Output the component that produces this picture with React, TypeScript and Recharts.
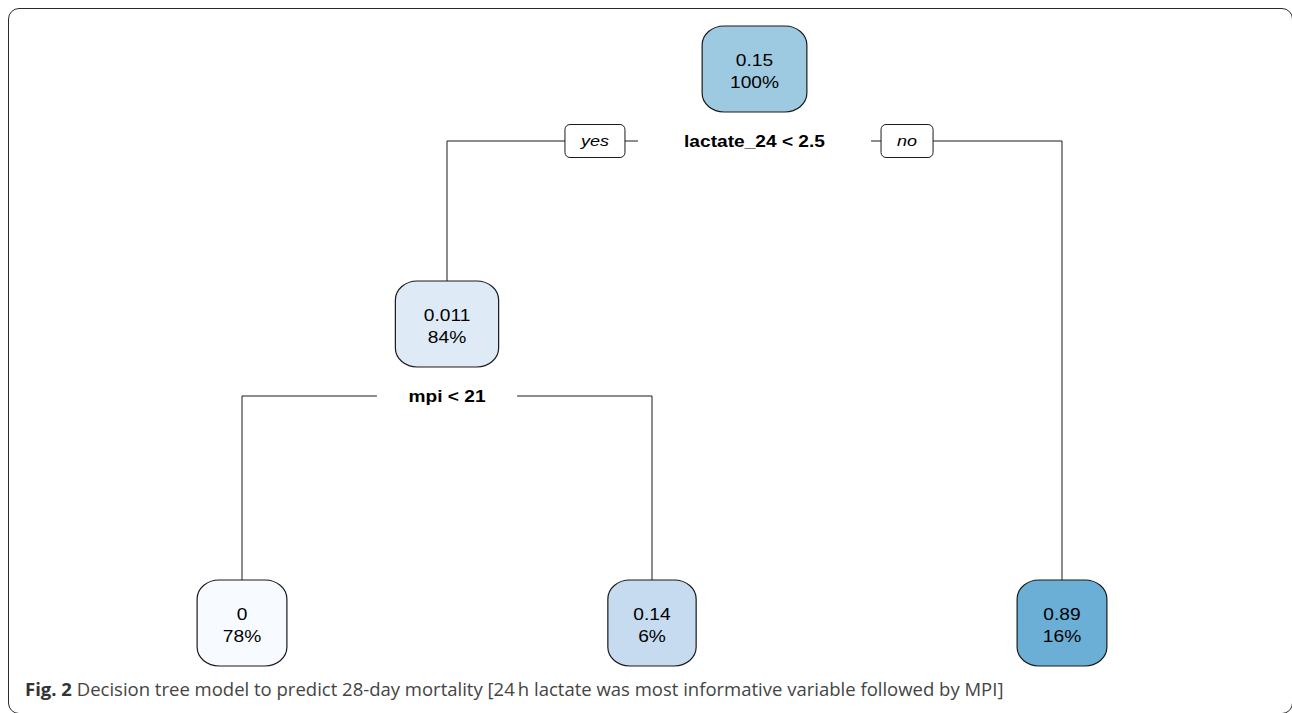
import React from "react";
import { ComposedChart, XAxis, YAxis, Line, Scatter } from "recharts";

// rpart tree for 28-day mortality. node n has children 2n (yes) and 2n+1 (no)
const nodeIds = [1, 2, 3, 4, 5];
const nodeRates = ["0.15", "0.011", "0.89", "0", "0.14"];
const nodeShares = ["100%", "84%", "16%", "78%", "6%"];
const splitIds = [1, 2];
const splitRules = ["lactate_24 < 2.5", "mpi < 21"];
const branchLabels = ["yes", "no"];

const FILL: Record<number, string> = {
  1: "#9ecae1",
  2: "#deebf7",
  3: "#6baed6",
  4: "#f7fbff",
  5: "#c6dbef",
};

const W = 1292;
const H = 713;
const FONT = "'Liberation Sans', Arial, Helvetica, sans-serif";
const SX = 1.2; // the figure is stretched sideways
const ROW_Y = [69, 324];
const LEAF_Y = 623;
const SPLIT_DY = 72;
const INK = "#1a1a1a";

// Arial widths in em, anything missing is 0.556
const EM: Record<string, number> = {
  ".": 0.278, "%": 0.889, " ": 0.278, "<": 0.584, l: 0.278, i: 0.278,
  t: 0.333, m: 0.889, p: 0.611, y: 0.5, s: 0.5,
};
const textW = (s: string, size: number) =>
  [...s].reduce((w, ch) => w + (EM[ch] ?? 0.556), 0) * size * SX;

// leaves left to right, inner nodes centred over their children
const kids = (id: number) => nodeIds.filter((c) => c === 2 * id || c === 2 * id + 1);
const pos: Record<number, { x: number; depth: number; leaf: boolean }> = {};
let nextLeaf = 0;
function place(id: number, depth: number): number {
  const k = kids(id);
  let x: number;
  if (k.length === 0) x = nextLeaf++;
  else {
    const xs = k.map((c) => place(c, depth + 1));
    x = (xs[0] + xs[xs.length - 1]) / 2;
  }
  pos[id] = { x, depth, leaf: k.length === 0 };
  return x;
}
place(1, 0);

const nodes = nodeIds.map((id, i) => ({
  id,
  rate: nodeRates[i],
  share: nodeShares[i],
  x: pos[id].x,
  y: pos[id].leaf ? LEAF_Y : ROW_Y[pos[id].depth],
}));
const byId = (id: number) => nodes.find((n) => n.id === id)!;

const edges = nodes
  .filter((n) => n.id > 1)
  .map((c) => {
    const p = byId(Math.floor(c.id / 2));
    const sy = p.y + SPLIT_DY;
    return [
      { x: p.x, y: sy },
      { x: c.x, y: sy },
      { x: c.x, y: c.y },
    ];
  });

function SText({ x, y, size, bold, italic, sx = SX, children }: any) {
  return (
    <text
      transform={`translate(${x},${y}) scale(${sx},1)`}
      textAnchor="middle"
      fontFamily={FONT}
      fontSize={size}
      fontWeight={bold ? 700 : 400}
      fontStyle={italic ? "italic" : "normal"}
      fill="#000"
    >
      {children}
    </text>
  );
}

function NodeShape(props: any) {
  const { cx, cy, payload } = props;
  const w = Math.max(textW(payload.rate, 16), textW(payload.share, 16)) * 1.4 + 36;
  const h = 86;
  const si = splitIds.indexOf(payload.id);
  let split = null;
  if (si >= 0) {
    const rule = splitRules[si];
    const sy = cy + SPLIT_DY;
    const gap = textW(rule, 16) * 1.45 + 28;
    split = (
      <g>
        <rect x={cx - gap / 2} y={sy - 12} width={gap} height={24} fill="#fff" />
        <SText x={cx} y={sy + 6} size={16.5} sx={1.16} bold>
          {rule}
        </SText>
        {payload.id === 1 &&
          branchLabels.map((b, j) => {
            const bw = textW(b, 15) + 32;
            const bx = j === 0 ? cx - gap / 2 - 13 - bw : cx + gap / 2 + 10;
            return (
              <g key={b}>
                <rect x={bx} y={sy - 16.5} width={bw} height={33} rx={5} fill="#fff" stroke={INK} strokeWidth={1} />
                <SText x={bx + bw / 2} y={sy + 5} size={15.5} sx={1.16} italic>
                  {b}
                </SText>
              </g>
            );
          })}
      </g>
    );
  }
  return (
    <g>
      <rect
        x={cx - w / 2}
        y={cy - h / 2}
        width={w}
        height={h}
        rx={22}
        ry={19}
        fill={FILL[payload.id]}
        stroke={INK}
        strokeWidth={1.2}
      />
      <SText x={cx} y={cy - 3.5} size={17} sx={1.13}>
        {payload.rate}
      </SText>
      <SText x={cx} y={cy + 18.5} size={17} sx={1.13}>
        {payload.share}
      </SText>
      {split}
    </g>
  );
}

export default function App() {
  return (
    <div style={{ position: "fixed", left: 0, top: 0, width: W, height: H, overflow: "hidden", background: "#fff" }}>
      <div
        style={{
          position: "absolute",
          left: 8,
          top: 7.5,
          width: 1285,
          height: 706,
          border: "1.5px solid #2b2b2b",
          borderRadius: 11,
          boxSizing: "border-box",
        }}
      />
      <div style={{ position: "absolute", left: 0, top: 0 }}>
        <ComposedChart width={W} height={H} data={nodes} margin={{ top: 0, right: 230, bottom: 0, left: 242 }}>
          <XAxis type="number" dataKey="x" domain={[0, 2]} hide />
          <YAxis type="number" dataKey="y" domain={[0, H]} reversed hide />
          {edges.map((e, i) => (
            <Line
              key={i}
              data={e}
              dataKey="y"
              type="linear"
              stroke={INK}
              strokeWidth={1}
              dot={false}
              activeDot={false}
              isAnimationActive={false}
            />
          ))}
          <Scatter data={nodes} dataKey="y" shape={NodeShape} isAnimationActive={false} />
        </ComposedChart>
      </div>
      <div
        style={{
          position: "absolute",
          left: 25,
          top: 679,
          lineHeight: "20px",
          fontFamily: "'Open Sans', sans-serif",
          fontSize: 18.5,
          color: "#444",
          whiteSpace: "nowrap",
        }}
      >
        <b style={{ color: "#333" }}>Fig. 2</b> Decision tree model to predict 28-day mortality [24{"\u2009"}h lactate was
        most informative variable followed by MPI]
      </div>
    </div>
  );
}
